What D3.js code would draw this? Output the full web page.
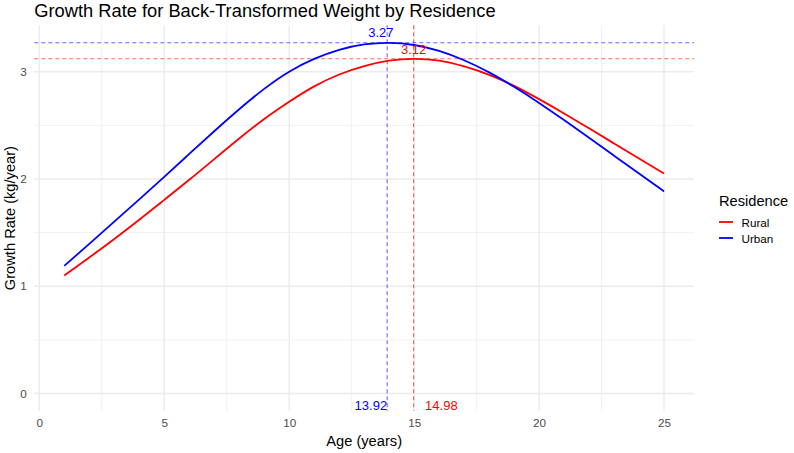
<!DOCTYPE html>
<html>
<head>
<meta charset="utf-8">
<script src="https://cdn.jsdelivr.net/npm/d3@7"></script>
<style>
  html, body { margin: 0; padding: 0; background: #fff; }
  svg { display: block; font-family: "Liberation Sans", Arial, sans-serif; }
</style>
</head>
<body>
<svg id="chart" width="794" height="453"></svg>
<script>
// ---- data ----
const ages = [1,2,3,4,5,6,7,8,9,10,11,12,13,14,15,16,17,18,19,20,21,22,23,24,25];
const rural = [1.100,1.268,1.441,1.620,1.805,1.992,2.185,2.377,2.559,2.720,2.863,2.974,3.053,3.104,3.120,3.103,3.049,2.971,2.868,2.744,2.611,2.472,2.331,2.190,2.050];
const urban = [1.190,1.395,1.602,1.810,2.020,2.233,2.445,2.650,2.840,3.000,3.119,3.204,3.254,3.269,3.249,3.195,3.107,2.994,2.859,2.709,2.549,2.384,2.217,2.050,1.884];
const groups = ["Rural", "Urban"];
const groupColors = ["#FF0000", "#0000FF"];
const peakAge = [14.98, 13.92];
const peakRate = [3.12, 3.27];
const peakRateLabelX = [14.98, 13.67];
const peakRateLabelY = [3.21, 3.37];
const peakAgeLabelX = [16.09, 13.27];
const peakAgeLabelY = [-0.11, -0.11];
const xTicks = [0, 5, 10, 15, 20, 25];
const xMinor = [2.5, 7.5, 12.5, 17.5, 22.5];
const yTicks = [0, 1, 2, 3];
const yMinor = [0.5, 1.5, 2.5];

const series = groups.map((g, i) => ({
  name: g, color: groupColors[i],
  values: ages.map((a, j) => ({ x: a, y: (i === 0 ? rural : urban)[j] }))
}));

// ---- layout ----
const svg = d3.select("#chart");
const panel = { left: 34.3, right: 694, top: 25.2, bottom: 411 };
const x = d3.scaleLinear().domain([-0.2, 26.2]).range([panel.left, panel.right]);
const y = d3.scaleLinear().domain([-0.1635, 3.4335]).range([panel.bottom, panel.top]);

const grid = svg.append("g");
grid.selectAll(".xminor").data(xMinor).enter().append("line")
  .attr("x1", d => x(d)).attr("x2", d => x(d))
  .attr("y1", panel.top).attr("y2", panel.bottom)
  .attr("stroke", "#EBEBEB").attr("stroke-width", 0.7);
grid.selectAll(".yminor").data(yMinor).enter().append("line")
  .attr("y1", d => y(d)).attr("y2", d => y(d))
  .attr("x1", panel.left).attr("x2", panel.right)
  .attr("stroke", "#EBEBEB").attr("stroke-width", 0.7);
grid.selectAll(".xmajor").data(xTicks).enter().append("line")
  .attr("x1", d => x(d)).attr("x2", d => x(d))
  .attr("y1", panel.top).attr("y2", panel.bottom)
  .attr("stroke", "#EBEBEB").attr("stroke-width", 1.4);
grid.selectAll(".ymajor").data(yTicks).enter().append("line")
  .attr("y1", d => y(d)).attr("y2", d => y(d))
  .attr("x1", panel.left).attr("x2", panel.right)
  .attr("stroke", "#EBEBEB").attr("stroke-width", 1.4);

// axes (text only)
const xAxis = d3.axisBottom(x).tickValues(xTicks).tickFormat(d3.format("d")).tickSize(0).tickPadding(8);
const gx = svg.append("g").attr("transform", `translate(0,${panel.bottom})`).call(xAxis);
gx.select(".domain").remove();
gx.selectAll("text").attr("fill", "#4D4D4D").attr("font-size", "11.7px")
  .attr("font-family", "Liberation Sans, Arial, sans-serif");

const yAxis = d3.axisLeft(y).tickValues(yTicks).tickFormat(d3.format("d")).tickSize(0).tickPadding(7.5);
const gy = svg.append("g").attr("transform", `translate(${panel.left},0)`).call(yAxis);
gy.select(".domain").remove();
gy.selectAll("text").attr("fill", "#4D4D4D").attr("font-size", "11.7px")
  .attr("font-family", "Liberation Sans, Arial, sans-serif");

// reference dashed lines
const refs = svg.append("g");
groups.forEach((g, i) => {
  refs.append("line")
    .attr("x1", panel.left).attr("x2", panel.right)
    .attr("y1", y(peakRate[i])).attr("y2", y(peakRate[i]))
    .attr("stroke", groupColors[i]).attr("stroke-opacity", 0.6)
    .attr("stroke-width", 1.1).attr("stroke-dasharray", "4,3");
  refs.append("line")
    .attr("y1", panel.top).attr("y2", panel.bottom)
    .attr("x1", x(peakAge[i])).attr("x2", x(peakAge[i]))
    .attr("stroke", groupColors[i]).attr("stroke-opacity", 0.6)
    .attr("stroke-width", 1.1).attr("stroke-dasharray", "4,3");
});

// curves
const line = d3.line().x(d => x(d.x)).y(d => y(d.y)).curve(d3.curveNatural);
svg.append("g").selectAll("path").data(series).enter().append("path")
  .attr("d", d => line(d.values))
  .attr("fill", "none").attr("stroke", d => d.color).attr("stroke-width", 1.8);

// labels
const lab = svg.append("g").attr("font-size", "13px");
groups.forEach((g, i) => {
  lab.append("text").attr("x", x(peakRateLabelX[i])).attr("y", y(peakRateLabelY[i]))
    .attr("text-anchor", "middle").attr("dominant-baseline", "central")
    .attr("fill", groupColors[i]).text(peakRate[i].toFixed(2));
  lab.append("text").attr("x", x(peakAgeLabelX[i])).attr("y", y(peakAgeLabelY[i]))
    .attr("text-anchor", "middle").attr("dominant-baseline", "central")
    .attr("fill", groupColors[i]).text(peakAge[i].toFixed(2));
});

// titles
svg.append("text").attr("x", panel.left).attr("y", 17)
  .attr("font-size", "18.3px").attr("fill", "#000")
  .text("Growth Rate for Back-Transformed Weight by Residence");
svg.append("text").attr("x", (panel.left + panel.right) / 2).attr("y", 446)
  .attr("text-anchor", "middle").attr("font-size", "14.67px").attr("fill", "#000")
  .text("Age (years)");
svg.append("text")
  .attr("transform", `translate(14.5,${(panel.top + panel.bottom) / 2}) rotate(-90)`)
  .attr("text-anchor", "middle").attr("font-size", "14.67px").attr("fill", "#000")
  .text("Growth Rate (kg/year)");

// legend
const leg = svg.append("g").attr("transform", "translate(719,0)");
leg.append("text").attr("x", 0).attr("y", 206).attr("font-size", "14.67px").attr("fill", "#000")
  .text("Residence");
groups.forEach((g, i) => {
  const ky = 222 + i * 16;
  leg.append("line").attr("x1", 0).attr("x2", 14).attr("y1", ky).attr("y2", ky)
    .attr("stroke", groupColors[i]).attr("stroke-width", 1.8);
  leg.append("text").attr("x", 22.5).attr("y", ky).attr("dominant-baseline", "central")
    .attr("font-size", "11.7px").attr("fill", "#000").text(g);
});
</script>
</body>
</html>
